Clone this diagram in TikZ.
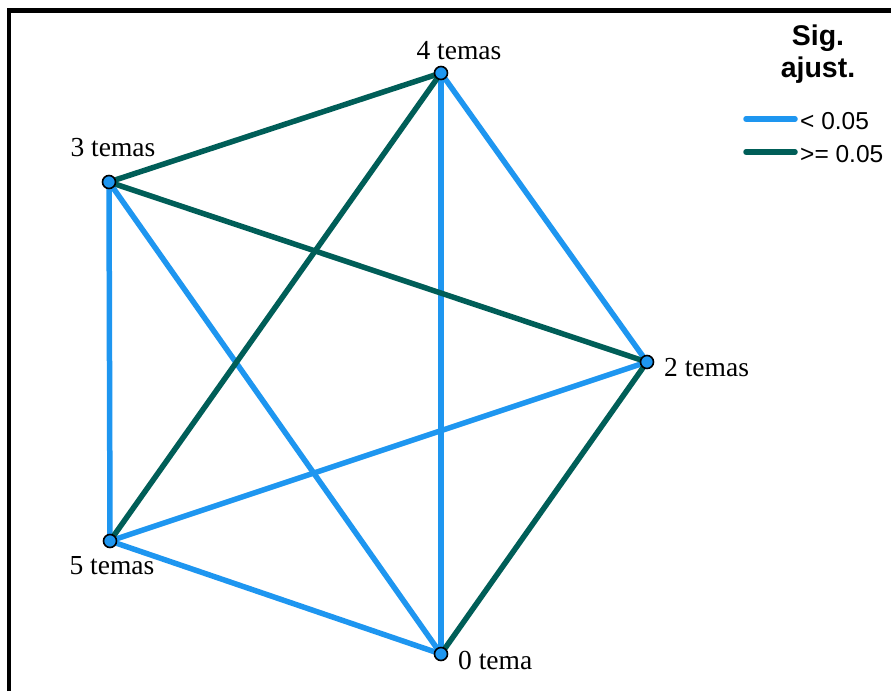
\documentclass[tikz,border=0pt]{standalone}
\usepackage{fontspec}
\setmainfont{Liberation Serif}
\setsansfont{Liberation Sans}
\definecolor{sigblue}{RGB}{30,150,240}
\definecolor{sigteal}{RGB}{0,94,88}
\begin{document}
\begin{tikzpicture}[x=1pt,y=-1pt,
  pt/.style={circle,draw=black,line width=1.6pt,fill=sigblue,minimum size=13pt,inner sep=0pt},
  lab/.style={font=\fontsize{27.5}{27.5}\selectfont,inner sep=0pt},
  sig/.style={line width=5.5pt,sigblue},
  nsig/.style={line width=5.5pt,sigteal},
  leg/.style={font=\sffamily\fontsize{24.5}{24.5}\selectfont,inner sep=0pt,anchor=west}]
\useasboundingbox (0,0) rectangle (891,691);
\fill[white] (0,0) rectangle (891,691);
\draw[line width=4.5pt,black] (9,691) -- (9,10.5) -- (891,10.5);
% node positions
\coordinate (n4) at (441,73);
\coordinate (n3) at (109,182);
\coordinate (n2) at (647,362);
\coordinate (n5) at (110,541);
\coordinate (n0) at (441,654);
% edges
\draw[sig] (n4) -- (n0);
\draw[sig] (n4) -- (n2);
\draw[sig] (n3) -- (n5);
\draw[sig] (n3) -- (n0);
\draw[sig] (n2) -- (n5);
\draw[sig] (n5) -- (n0);
\draw[nsig] (n4) -- (n3);
\draw[nsig] (n4) -- (n5);
\draw[nsig] (n3) -- (n2);
\draw[nsig] (n2) -- (n0);
% nodes
\node[pt] (p4) at (n4) {};
\node[pt] (p3) at (n3) {};
\node[pt] (p2) at (n2) {};
\node[pt] (p5) at (n5) {};
\node[pt] (p0) at (n0) {};
% labels
\node[lab] (l4) at (459,51) {4 temas};
\node[lab] (l3) at (113,148) {3 temas};
\node[lab,anchor=west] (l2) at (664,368) {2 temas};
\node[lab] (l5) at (112,566) {5 temas};
\node[lab,anchor=west] (l0) at (458,660) {0 tema};
% legend
\node[font=\sffamily\bfseries\fontsize{28.5}{32}\selectfont,align=center,inner sep=0pt] (title) at (818,54) {Sig.\\ajust.};
\coordinate (b1) at (746,119);
\coordinate (b2) at (795,119);
\coordinate (t1) at (746,152);
\coordinate (t2) at (795,152);
\draw[sig,line cap=round] (b1) -- (b2);
\draw[nsig,line cap=round] (t1) -- (t2);
\node[leg] (lb) at (800,121) {< 0.05};
\node[leg] (lt) at (800,154) {>= 0.05};
\end{tikzpicture}
\end{document}
